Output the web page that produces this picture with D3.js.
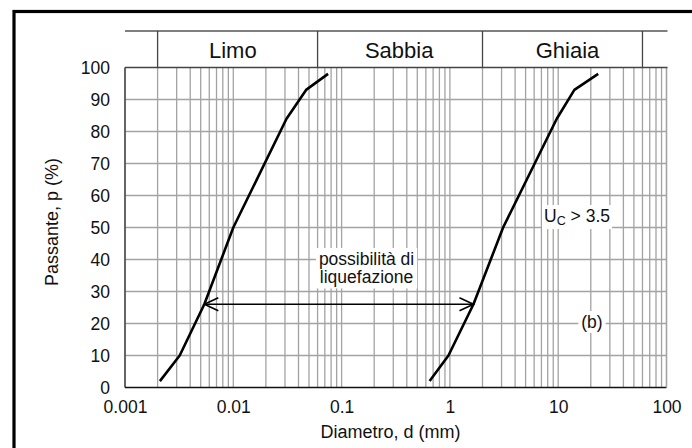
<!DOCTYPE html>
<html>
<head>
<meta charset="utf-8">
<script src="https://cdn.jsdelivr.net/npm/d3@7"></script>
<style>
  body { margin: 0; background: #fff; }
  svg text { font-family: "Liberation Sans", Arial, sans-serif; fill: #111; }
</style>
</head>
<body>
<div id="chart"></div>
<script>
// grain size curves (diameter in mm, percent passing)
var fineD = [0.0021, 0.0032, 0.0054, 0.01, 0.031, 0.047, 0.075];
var fineP = [2, 10, 26, 50, 84, 93, 98];
var coarseD = [0.65, 0.97, 1.65, 3.1, 9.7, 14.1, 23.4];
var coarseP = [2, 10, 26, 50, 84, 93, 98];

// soil classes band on top
var classBounds = [0.002, 0.06, 2, 60];
var classNames = ["Limo", "Sabbia", "Ghiaia"];
var classLabelAt = [0.0099, 0.34, 12.2];

var xTicks = [0.001, 0.01, 0.1, 1, 10, 100];
var xTickLabels = ["0.001", "0.01", "0.1", "1", "10", "100"];
var yTicks = [0, 10, 20, 30, 40, 50, 60, 70, 80, 90, 100];

// liquefaction range arrow
var arrowD = [0.0054, 1.65];
var arrowP = 26;

var svgWidth = 692;
var svgHeight = 448;
var margin = {top: 67.5, right: 25.5, bottom: 60, left: 125};
var width = 666.5 - margin.left;
var height = 387.5 - margin.top;

var svg = d3.select("#chart")
  .append("svg")
  .attr("width", svgWidth)
  .attr("height", svgHeight);

// outer frame
svg.append("rect")
  .attr("x", 14).attr("y", 11.5)
  .attr("width", 720).attr("height", 480)
  .attr("fill", "none")
  .attr("stroke", "#000")
  .attr("stroke-width", 3.2);

var chartGroup = svg.append("g")
  .attr("transform", `translate(${margin.left}, ${margin.top})`);

var x = d3.scaleLog().domain([0.001, 100]).range([0, width]);
var y = d3.scaleLinear().domain([0, 100]).range([height, 0]);

// grid
chartGroup.append("g").selectAll("line")
  .data(x.ticks())
  .enter().append("line")
  .attr("x1", d => x(d)).attr("x2", d => x(d))
  .attr("y1", 0).attr("y2", height)
  .attr("stroke", "#a3a3a3").attr("stroke-width", 1.3);

chartGroup.append("g").selectAll("line")
  .data(yTicks.slice(1, -1))
  .enter().append("line")
  .attr("x1", 0).attr("x2", width)
  .attr("y1", d => y(d)).attr("y2", d => y(d))
  .attr("stroke", "#a3a3a3").attr("stroke-width", 1.3);

// plot borders
chartGroup.append("line").attr("x1", 0).attr("x2", 0).attr("y1", 0).attr("y2", height)
  .attr("stroke", "#333").attr("stroke-width", 1.3);
chartGroup.append("line").attr("x1", 0).attr("x2", width).attr("y1", height).attr("y2", height)
  .attr("stroke", "#111").attr("stroke-width", 1.5);
chartGroup.append("line").attr("x1", width).attr("x2", width).attr("y1", 0).attr("y2", height)
  .attr("stroke", "#a3a3a3").attr("stroke-width", 1.3);

// header band
var bandTop = -36.5;
var header = chartGroup.append("g");
header.append("line").attr("x1", 0).attr("x2", width + 1).attr("y1", bandTop).attr("y2", bandTop)
  .attr("stroke", "#555").attr("stroke-width", 1.3);
header.append("line").attr("x1", 0).attr("x2", width + 1).attr("y1", 0).attr("y2", 0)
  .attr("stroke", "#444").attr("stroke-width", 1.3);
header.selectAll("line.div")
  .data(classBounds)
  .enter().append("line")
  .attr("class", "div")
  .attr("x1", d => x(d)).attr("x2", d => x(d))
  .attr("y1", bandTop).attr("y2", 0)
  .attr("stroke", "#444").attr("stroke-width", 1.3);
header.selectAll("text")
  .data(classNames)
  .enter().append("text")
  .attr("x", (d, i) => x(classLabelAt[i]))
  .attr("y", -10)
  .attr("text-anchor", "middle")
  .attr("font-size", "22px")
  .text(d => d);

// axes
var bottomAxis = d3.axisBottom(x)
  .tickValues(xTicks)
  .tickSize(0)
  .tickPadding(13)
  .tickFormat((d, i) => xTickLabels[i]);
var xAxis = chartGroup.append("g")
  .attr("transform", `translate(0, ${height})`)
  .call(bottomAxis);
xAxis.select(".domain").remove();
xAxis.selectAll("text").attr("font-size", "17.5px").attr("fill", "#111")
  .style("font-family", "Liberation Sans, Arial, sans-serif");

var leftAxis = d3.axisLeft(y)
  .tickValues(yTicks)
  .tickSize(0)
  .tickPadding(15);
var yAxis = chartGroup.append("g").call(leftAxis);
yAxis.select(".domain").remove();
yAxis.selectAll("text").attr("font-size", "17.5px").attr("fill", "#111")
  .style("font-family", "Liberation Sans, Arial, sans-serif");

// axis titles
chartGroup.append("text")
  .attr("x", 390.5 - margin.left)
  .attr("y", height + 50.5)
  .attr("text-anchor", "middle")
  .attr("font-size", "18px")
  .text("Diametro, d (mm)");

chartGroup.append("text")
  .attr("transform", `translate(${58 - margin.left}, ${222 - margin.top}) rotate(-90)`)
  .attr("text-anchor", "middle")
  .attr("font-size", "18px")
  .text("Passante, p (%)");

// curves
var line = d3.line()
  .x(d => x(d[0]))
  .y(d => y(d[1]));

[d3.zip(fineD, fineP), d3.zip(coarseD, coarseP)].forEach(function(pts) {
  chartGroup.append("path")
    .datum(pts)
    .attr("d", line)
    .attr("fill", "none")
    .attr("stroke", "#000")
    .attr("stroke-width", 2.6)
    .attr("stroke-linejoin", "round");
});

// double arrow
function arrowHead(xTip, yTip, dir) {
  chartGroup.append("path")
    .attr("d", `M${xTip - dir * 14},${yTip - 6.5} L${xTip},${yTip} L${xTip - dir * 14},${yTip + 6.5}`)
    .attr("fill", "none")
    .attr("stroke", "#000")
    .attr("stroke-width", 1.6);
}
chartGroup.append("line")
  .attr("x1", x(arrowD[0])).attr("x2", x(arrowD[1]))
  .attr("y1", y(arrowP)).attr("y2", y(arrowP))
  .attr("stroke", "#000").attr("stroke-width", 1.4);
arrowHead(x(arrowD[0]), y(arrowP), -1);
arrowHead(x(arrowD[1]), y(arrowP), 1);

// labels with white boxes
function boxedText(lines, xPos, yPos, size, lineGap, anchor) {
  var g = chartGroup.append("g");
  var rect = g.append("rect").attr("fill", "#fff");
  var t = g.append("text")
    .attr("x", xPos).attr("y", yPos)
    .attr("text-anchor", anchor)
    .attr("font-size", size);
  lines.forEach(function(l, i) {
    t.append("tspan").attr("x", xPos).attr("dy", i === 0 ? 0 : lineGap).text(l);
  });
  var b = t.node().getBBox();
  rect.attr("x", b.x - 3).attr("y", b.y - 1).attr("width", b.width + 6).attr("height", b.height + 2);
  return t;
}

boxedText(["possibilità di", "liquefazione"], x(0.17), y(38.3), "17.5px", 18.5, "middle");

// U_c > 3.5
var ug = chartGroup.append("g");
var ur = ug.append("rect").attr("fill", "#fff");
var ut = ug.append("text")
  .attr("x", x(7.4)).attr("y", y(51.7))
  .attr("font-size", "17.5px");
ut.append("tspan").text("U");
ut.append("tspan").attr("font-size", "12.5px").attr("dy", 3).text("C");
ut.append("tspan").attr("dy", -3).text(" > 3.5");
var ub = ut.node().getBBox();
ur.attr("x", ub.x - 2).attr("y", ub.y - 1).attr("width", ub.width + 4).attr("height", ub.height + 2);

boxedText(["(b)"], x(20.5), y(18.6), "17.5px", 0, "middle");
</script>
</body>
</html>
